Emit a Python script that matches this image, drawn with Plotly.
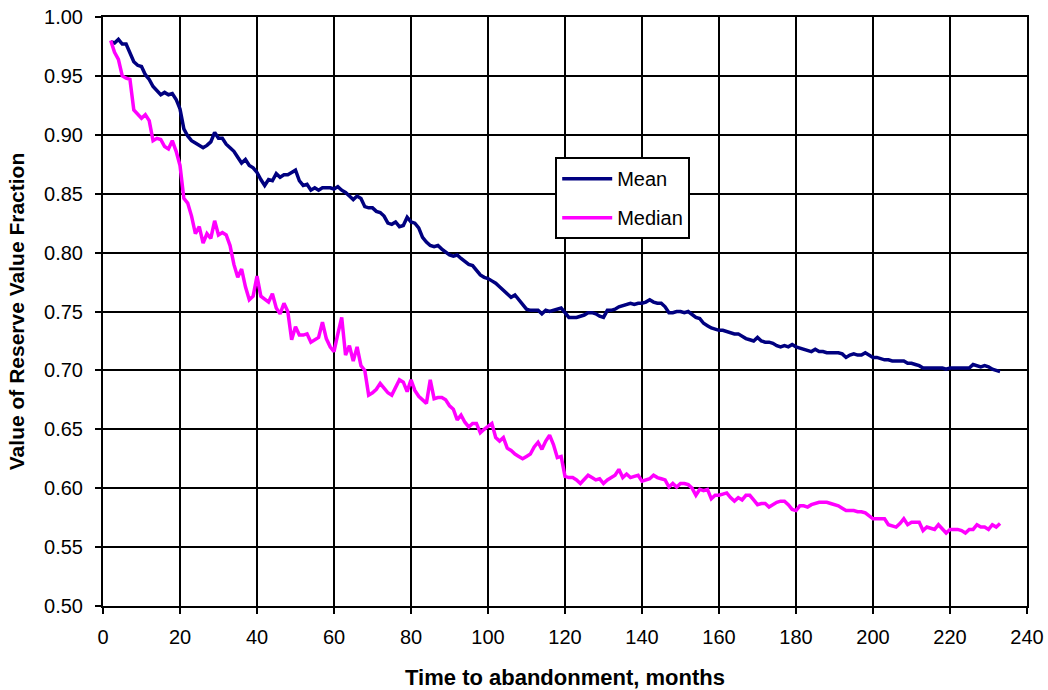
import plotly.graph_objects as go

months = list(range(2, 234))

mean_vals = [
    0.979, 0.978, 0.981, 0.977, 0.977, 0.970, 0.962, 0.959, 0.958, 0.951,  # 2-11
    0.947, 0.941, 0.937, 0.934, 0.936, 0.934, 0.935, 0.930, 0.922, 0.905,  # 12-21
    0.899, 0.895, 0.893, 0.891, 0.889, 0.891, 0.894, 0.902, 0.897, 0.897,  # 22-31
    0.892, 0.889, 0.886, 0.881, 0.876, 0.879, 0.874, 0.872, 0.868, 0.862,  # 32-41
    0.857, 0.862, 0.861, 0.867, 0.864, 0.866, 0.866, 0.868, 0.870, 0.861,  # 42-51
    0.857, 0.858, 0.853, 0.855, 0.853, 0.855, 0.855, 0.855, 0.854, 0.856,  # 52-61
    0.853, 0.851, 0.848, 0.845, 0.848, 0.846, 0.839, 0.838, 0.838, 0.835,  # 62-71
    0.834, 0.831, 0.825, 0.824, 0.826, 0.822, 0.823, 0.830, 0.826, 0.825,  # 72-81
    0.821, 0.813, 0.809, 0.806, 0.805, 0.806, 0.803, 0.800, 0.798, 0.797,  # 82-91
    0.798, 0.795, 0.792, 0.790, 0.789, 0.785, 0.781, 0.779, 0.778, 0.776,  # 92-101
    0.774, 0.771, 0.768, 0.765, 0.762, 0.764, 0.760, 0.755, 0.752, 0.751,  # 102-111
    0.751, 0.751, 0.748, 0.751, 0.750, 0.751, 0.752, 0.753, 0.749, 0.745,  # 112-121
    0.745, 0.745, 0.746, 0.747, 0.749, 0.749, 0.748, 0.746, 0.745, 0.751,  # 122-131
    0.751, 0.752, 0.754, 0.755, 0.756, 0.757, 0.756, 0.757, 0.757, 0.758,  # 132-141
    0.760, 0.758, 0.757, 0.757, 0.754, 0.749, 0.749, 0.750, 0.750, 0.749,  # 142-151
    0.750, 0.747, 0.745, 0.744, 0.740, 0.738, 0.736, 0.735, 0.734, 0.734,  # 152-161
    0.733, 0.732, 0.731, 0.731, 0.729, 0.727, 0.726, 0.725, 0.728, 0.725,  # 162-171
    0.724, 0.724, 0.723, 0.721, 0.720, 0.721, 0.720, 0.722, 0.720, 0.719,  # 172-181
    0.718, 0.717, 0.716, 0.718, 0.716, 0.716, 0.715, 0.715, 0.715, 0.715,  # 182-191
    0.714, 0.711, 0.713, 0.714, 0.713, 0.713, 0.715, 0.713, 0.711, 0.711,  # 192-201
    0.710, 0.709, 0.709, 0.708, 0.708, 0.708, 0.708, 0.706, 0.706, 0.705,  # 202-211
    0.704, 0.702, 0.702, 0.702, 0.702, 0.702, 0.702, 0.701, 0.702, 0.702,  # 212-221
    0.702, 0.702, 0.702, 0.702, 0.705, 0.704, 0.703, 0.704, 0.703, 0.701,  # 222-231
    0.700, 0.699,                                                          # 232-233
]

median_vals = [
    0.980, 0.970, 0.964, 0.950, 0.948, 0.947, 0.921, 0.918, 0.914, 0.917,  # 2-11
    0.912, 0.895, 0.897, 0.896, 0.890, 0.888, 0.895, 0.886, 0.874, 0.846,  # 12-21
    0.842, 0.831, 0.816, 0.822, 0.808, 0.816, 0.812, 0.827, 0.815, 0.817,  # 22-31
    0.815, 0.806, 0.790, 0.779, 0.786, 0.771, 0.760, 0.763, 0.780, 0.763,  # 32-41
    0.760, 0.758, 0.765, 0.753, 0.748, 0.757, 0.750, 0.726, 0.737, 0.730,  # 42-51
    0.730, 0.731, 0.724, 0.726, 0.728, 0.741, 0.727, 0.720, 0.716, 0.731,  # 52-61
    0.745, 0.713, 0.721, 0.708, 0.720, 0.704, 0.700, 0.679, 0.681, 0.684,  # 62-71
    0.689, 0.685, 0.681, 0.679, 0.686, 0.692, 0.690, 0.682, 0.692, 0.683,  # 72-81
    0.678, 0.675, 0.672, 0.692, 0.676, 0.677, 0.677, 0.675, 0.670, 0.667,  # 82-91
    0.658, 0.662, 0.656, 0.652, 0.655, 0.655, 0.647, 0.650, 0.653, 0.655,  # 92-101
    0.643, 0.640, 0.643, 0.634, 0.632, 0.629, 0.627, 0.625, 0.627, 0.629,  # 102-111
    0.635, 0.639, 0.633, 0.640, 0.645, 0.637, 0.626, 0.627, 0.610, 0.609,  # 112-121
    0.609, 0.607, 0.604, 0.608, 0.611, 0.609, 0.607, 0.608, 0.604, 0.607,  # 122-131
    0.609, 0.611, 0.616, 0.609, 0.612, 0.609, 0.610, 0.611, 0.606, 0.607,  # 132-141
    0.608, 0.611, 0.609, 0.608, 0.607, 0.601, 0.604, 0.601, 0.604, 0.604,  # 142-151
    0.603, 0.600, 0.594, 0.599, 0.598, 0.599, 0.591, 0.594, 0.594, 0.595,  # 152-161
    0.596, 0.592, 0.589, 0.592, 0.590, 0.594, 0.594, 0.590, 0.586, 0.587,  # 162-171
    0.587, 0.584, 0.586, 0.588, 0.589, 0.589, 0.586, 0.582, 0.581, 0.585,  # 172-181
    0.585, 0.584, 0.586, 0.587, 0.588, 0.588, 0.588, 0.587, 0.586, 0.585,  # 182-191
    0.583, 0.581, 0.581, 0.581, 0.580, 0.580, 0.579, 0.576, 0.574, 0.574,  # 192-201
    0.574, 0.574, 0.569, 0.568, 0.567, 0.570, 0.574, 0.569, 0.571, 0.571,  # 202-211
    0.571, 0.564, 0.567, 0.566, 0.565, 0.569, 0.566, 0.562, 0.565, 0.565,  # 212-221
    0.565, 0.564, 0.562, 0.565, 0.565, 0.569, 0.567, 0.567, 0.565, 0.569,  # 222-231
    0.567, 0.570,                                                          # 232-233
]

x_ticks = [0, 20, 40, 60, 80, 100, 120, 140, 160, 180, 200, 220, 240]
y_ticks = [0.50, 0.55, 0.60, 0.65, 0.70, 0.75, 0.80, 0.85, 0.90, 0.95, 1.00]

FONT = "Liberation Sans, Arial, sans-serif"

fig = go.Figure()
fig.add_trace(go.Scatter(x=months, y=mean_vals, mode="lines", name="Mean",
                         line=dict(color="#000080", width=3.5), legendgroup="a"))
fig.add_trace(go.Scatter(x=months, y=median_vals, mode="lines", name="Median",
                         line=dict(color="#FF00FF", width=3.5), legendgroup="b"))

fig.update_layout(
    width=1048, height=690,
    margin=dict(l=103, r=21, t=17, b=84),
    paper_bgcolor="white", plot_bgcolor="white",
    font=dict(family=FONT, size=20, color="black"),
    showlegend=True,
    legend=dict(x=0.4894, y=0.762, xanchor="left", yanchor="top",
                bgcolor="white", bordercolor="black", borderwidth=2,
                font=dict(size=20), traceorder="grouped", tracegroupgap=10,
                itemwidth=50),
    xaxis=dict(range=[0, 240], tickvals=x_ticks, ticktext=[str(v) for v in x_ticks],
               showgrid=True, gridcolor="black", gridwidth=1.5,
               showline=True, linecolor="black", linewidth=2, mirror=True,
               ticks="outside", ticklen=6, tickwidth=2, tickcolor="black",
               ticklabelstandoff=6, zeroline=False, automargin=False,
               tickfont=dict(size=20),
               title=dict(text="<b>Time to abandonment, months</b>",
                          font=dict(size=22), standoff=26)),
    yaxis=dict(range=[0.5, 1.0], tickvals=y_ticks, ticktext=[f"{v:.2f}" for v in y_ticks],
               showgrid=True, gridcolor="black", gridwidth=1.5,
               showline=True, linecolor="black", linewidth=2, mirror=True,
               ticks="outside", ticklen=6, tickwidth=2, tickcolor="black",
               ticklabelstandoff=8, zeroline=False, automargin=False,
               tickfont=dict(size=20),
               title=dict(text="<b>Value of Reserve Value Fraction</b>",
                          font=dict(size=21), standoff=14)),
)

fig.write_html("out.html")
